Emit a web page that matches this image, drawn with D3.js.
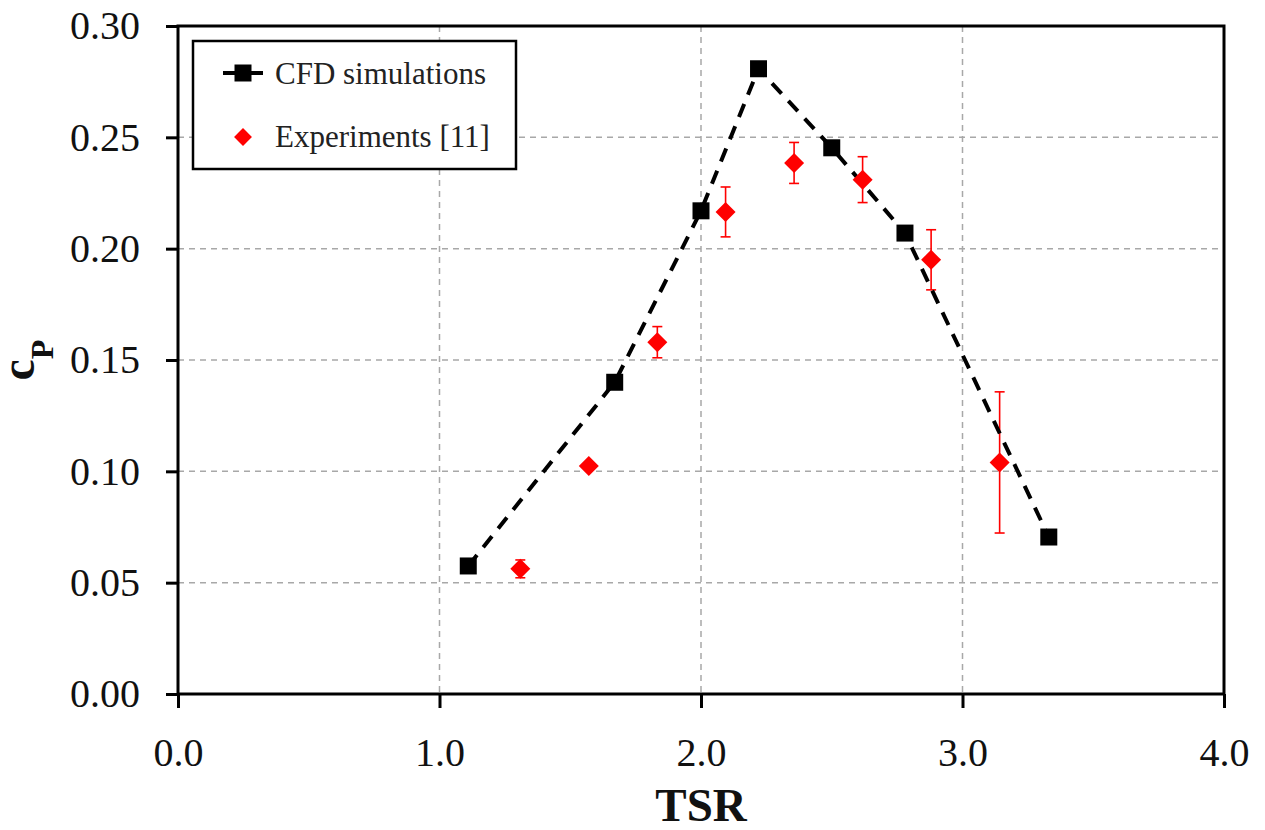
<!DOCTYPE html>
<html>
<head>
<meta charset="utf-8">
<script src="https://cdn.jsdelivr.net/npm/d3@7"></script>
<style>
  html, body { margin: 0; padding: 0; background: #fff; }
  svg { display: block; font-family: "Liberation Serif", "Times New Roman", serif; }
</style>
</head>
<body>
<svg id="chart" width="1265" height="830"></svg>
<script>
// CFD simulations (TSR, cP)
const cfdTsr = [1.11, 1.67, 2.00, 2.22, 2.50, 2.78, 3.33];
const cfdCp  = [0.0575, 0.140, 0.217, 0.2808, 0.2453, 0.207, 0.0705];
// Experiments [11] (TSR, cP, error half-width)
const expTsr = [1.309, 1.571, 1.833, 2.094, 2.356, 2.618, 2.880, 3.142];
const expCp  = [0.0562, 0.1024, 0.158, 0.2165, 0.2385, 0.231, 0.195, 0.104];
const expErr = [0.004, 0, 0.007, 0.0112, 0.0092, 0.0103, 0.0135, 0.0317];
// ticks
const xTicks = [0, 1, 2, 3, 4];
const yTicks = [0, 0.05, 0.10, 0.15, 0.20, 0.25, 0.30];
const xGrid = [1, 2, 3];
const yGrid = [0.05, 0.10, 0.15, 0.20, 0.25];
const legendLabels = ["CFD simulations", "Experiments [11]"];

const svg = d3.select("#chart");
const L = 178, R = 1224, T = 26, B = 694;
const x = d3.scaleLinear().domain([0, 4]).range([L, R]);
const y = d3.scaleLinear().domain([0, 0.30]).range([B, T]);

// grid
const grid = svg.append("g").attr("stroke", "#a8a8a8").attr("stroke-width", 1.5).attr("stroke-dasharray", "6,5");
grid.selectAll("line.gx").data(xGrid).join("line").attr("class", "gx")
  .attr("x1", d => x(d)).attr("x2", d => x(d)).attr("y1", T).attr("y2", B);
grid.selectAll("line.gy").data(yGrid).join("line").attr("class", "gy")
  .attr("x1", L).attr("x2", R).attr("y1", d => y(d)).attr("y2", d => y(d));

// axes
const ya = svg.append("g").attr("transform", `translate(${L},0)`)
  .call(d3.axisLeft(y).tickValues(yTicks).tickSize(12).tickSizeOuter(0).tickPadding(26).tickFormat(d3.format(".2f")));
const xa = svg.append("g").attr("transform", `translate(0,${B})`)
  .call(d3.axisBottom(x).tickValues(xTicks).tickSize(14).tickSizeOuter(0).tickPadding(30).tickFormat(d3.format(".1f")));
[ya, xa].forEach(a => {
  a.select(".domain").remove();
  a.selectAll(".tick line").attr("stroke", "#000").attr("stroke-width", 3);
  a.selectAll(".tick text").attr("fill", "#111").style("font-size", "40px").style("font-family", "Liberation Serif");
});

// frame
svg.append("rect").attr("x", L).attr("y", T).attr("width", R - L).attr("height", B - T)
  .attr("fill", "none").attr("stroke", "#000").attr("stroke-width", 3);

// error bars
const eb = svg.append("g").attr("stroke", "#ff0000").attr("stroke-width", 1.6);
const expIdx = d3.range(expTsr.length).filter(i => expErr[i] > 0);
eb.selectAll("line.v").data(expIdx).join("line").attr("class", "v")
  .attr("x1", i => x(expTsr[i])).attr("x2", i => x(expTsr[i]))
  .attr("y1", i => y(expCp[i] + expErr[i])).attr("y2", i => y(expCp[i] - expErr[i]));
eb.selectAll("line.ct").data(expIdx).join("line").attr("class", "ct")
  .attr("x1", i => x(expTsr[i]) - 5).attr("x2", i => x(expTsr[i]) + 5)
  .attr("y1", i => y(expCp[i] + expErr[i])).attr("y2", i => y(expCp[i] + expErr[i]));
eb.selectAll("line.cb").data(expIdx).join("line").attr("class", "cb")
  .attr("x1", i => x(expTsr[i]) - 5).attr("x2", i => x(expTsr[i]) + 5)
  .attr("y1", i => y(expCp[i] - expErr[i])).attr("y2", i => y(expCp[i] - expErr[i]));

// CFD dashed line
const line = d3.line().x(i => x(cfdTsr[i])).y(i => y(cfdCp[i]));
svg.append("path").attr("d", line(d3.range(cfdTsr.length)))
  .attr("fill", "none").attr("stroke", "#000").attr("stroke-width", 4).attr("stroke-dasharray", "14,10");

// markers
const sq = d3.symbol().type(d3.symbolSquare).size(17 * 17);
const dia = d3.symbol().type(d3.symbolSquare).size(200);
svg.selectAll("path.cfd").data(d3.range(cfdTsr.length)).join("path").attr("class", "cfd")
  .attr("d", sq).attr("fill", "#000")
  .attr("transform", i => `translate(${x(cfdTsr[i])},${y(cfdCp[i])})`);
svg.selectAll("path.exp").data(d3.range(expTsr.length)).join("path").attr("class", "exp")
  .attr("d", dia).attr("fill", "#ff0000")
  .attr("transform", i => `translate(${x(expTsr[i])},${y(expCp[i])}) rotate(45)`);

// legend
const lg = svg.append("g");
lg.append("rect").attr("x", 193).attr("y", 41).attr("width", 323).attr("height", 128)
  .attr("fill", "#fff").attr("stroke", "#000").attr("stroke-width", 2.5);
lg.append("line").attr("x1", 223).attr("x2", 263).attr("y1", 73).attr("y2", 73)
  .attr("stroke", "#000").attr("stroke-width", 4);
lg.append("path").attr("d", sq).attr("fill", "#000").attr("transform", "translate(243,73)");
lg.append("path").attr("d", d3.symbol().type(d3.symbolSquare).size(160)).attr("fill", "#ff0000")
  .attr("transform", "translate(243,137) rotate(45)");
lg.selectAll("text").data(legendLabels).join("text")
  .attr("x", 275).attr("y", (d, i) => 84 + i * 63)
  .attr("fill", "#222").style("font-size", "31px").text(d => d);

// axis titles
svg.append("text").attr("x", (L + R) / 2).attr("y", 821).attr("text-anchor", "middle")
  .style("font-size", "47px").style("font-weight", "bold").attr("fill", "#111").text("TSR");
const yt = svg.append("text").attr("transform", "translate(34,360) rotate(-90)")
  .attr("text-anchor", "middle").attr("fill", "#111").style("font-weight", "bold");
yt.append("tspan").style("font-size", "48px").text("c");
yt.append("tspan").style("font-size", "32px").attr("dy", 19).text("P");
</script>
</body>
</html>
